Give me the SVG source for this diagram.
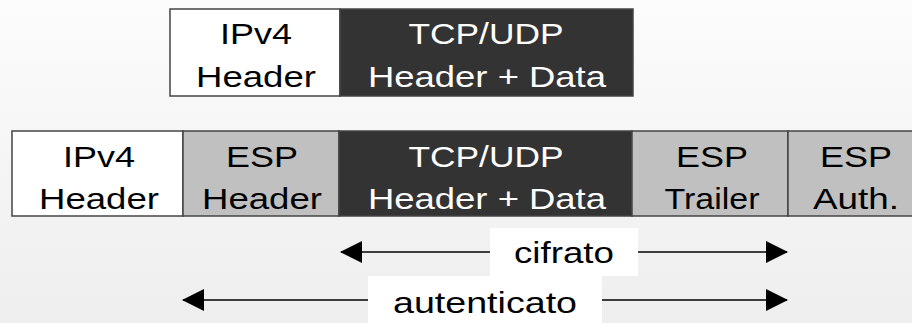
<svg xmlns="http://www.w3.org/2000/svg" width="912" height="323" viewBox="0 0 912 323">
<defs>
<linearGradient id="bg" x1="0" y1="0" x2="0" y2="1">
<stop offset="0" stop-color="#fcfcfc"/>
<stop offset="1" stop-color="#eeeeee"/>
</linearGradient>
<marker id="ah" viewBox="0 0 22 22" refX="21" refY="11" markerWidth="22" markerHeight="22" markerUnits="userSpaceOnUse" orient="auto-start-reverse">
<path d="M0,0 L22,11 L0,22 Z" fill="#000"/>
</marker>
<style>
.b{stroke:#444;stroke-width:1.5}
.w{fill:#fff}
.g{fill:#c0c0c0}
.d{fill:#333}
text{font-family:"Liberation Sans",Arial,sans-serif;font-size:29px;text-anchor:middle;fill:#000}
.dt{fill:#fff}
.conn{stroke:#000;stroke-width:1.5;fill:none}
</style>
</defs>
<rect x="0" y="0" width="912" height="323" fill="url(#bg)"/>
<g id="top-ipv4">
<rect class="b w" x="170" y="9" width="170" height="87"/>
<text x="256" y="44" textLength="72" lengthAdjust="spacingAndGlyphs">IPv4</text>
<text x="256" y="87" textLength="120" lengthAdjust="spacingAndGlyphs">Header</text>
</g>
<g id="top-tcp">
<rect class="b d" x="340" y="9" width="293" height="87"/>
<text class="dt" x="486" y="44" textLength="155" lengthAdjust="spacingAndGlyphs">TCP/UDP</text>
<text class="dt" x="487" y="87" textLength="238" lengthAdjust="spacingAndGlyphs">Header + Data</text>
</g>
<g id="ipv4">
<rect class="b w" x="12" y="131" width="171" height="85"/>
<text x="99" y="166.5" textLength="72" lengthAdjust="spacingAndGlyphs">IPv4</text>
<text x="99" y="208.5" textLength="120" lengthAdjust="spacingAndGlyphs">Header</text>
</g>
<g id="esp-header">
<rect class="b g" x="183" y="131" width="156" height="85"/>
<text x="262" y="166.5" textLength="72" lengthAdjust="spacingAndGlyphs">ESP</text>
<text x="262" y="208.5" textLength="120" lengthAdjust="spacingAndGlyphs">Header</text>
</g>
<g id="tcp">
<rect class="b d" x="339" y="131" width="293" height="85"/>
<text class="dt" x="486" y="166.5" textLength="155" lengthAdjust="spacingAndGlyphs">TCP/UDP</text>
<text class="dt" x="487" y="208.5" textLength="238" lengthAdjust="spacingAndGlyphs">Header + Data</text>
</g>
<g id="esp-trailer">
<rect class="b g" x="632" y="131" width="156" height="85"/>
<text x="712" y="166.5" textLength="72" lengthAdjust="spacingAndGlyphs">ESP</text>
<text x="712" y="208.5" textLength="95" lengthAdjust="spacingAndGlyphs">Trailer</text>
</g>
<g id="esp-auth">
<rect class="b g" x="788" y="131" width="140" height="85"/>
<text x="856" y="166.5" textLength="72" lengthAdjust="spacingAndGlyphs">ESP</text>
<text x="856" y="208.5" textLength="86" lengthAdjust="spacingAndGlyphs">Auth.</text>
</g>
<g id="connectors">
<line class="conn" x1="341" y1="252" x2="787" y2="252" marker-start="url(#ah)" marker-end="url(#ah)"/>
<line class="conn" x1="183" y1="300" x2="787" y2="300" marker-start="url(#ah)" marker-end="url(#ah)"/>
</g>
<g id="label-cifrato">
<rect x="490" y="228" width="148" height="48" fill="#fff"/>
<text x="564" y="263" textLength="100" lengthAdjust="spacingAndGlyphs">cifrato</text>
</g>
<g id="label-autenticato">
<rect x="368" y="276" width="234" height="47" fill="#fff"/>
<text x="485" y="313" textLength="184" lengthAdjust="spacingAndGlyphs">autenticato</text>
</g>
</svg>
